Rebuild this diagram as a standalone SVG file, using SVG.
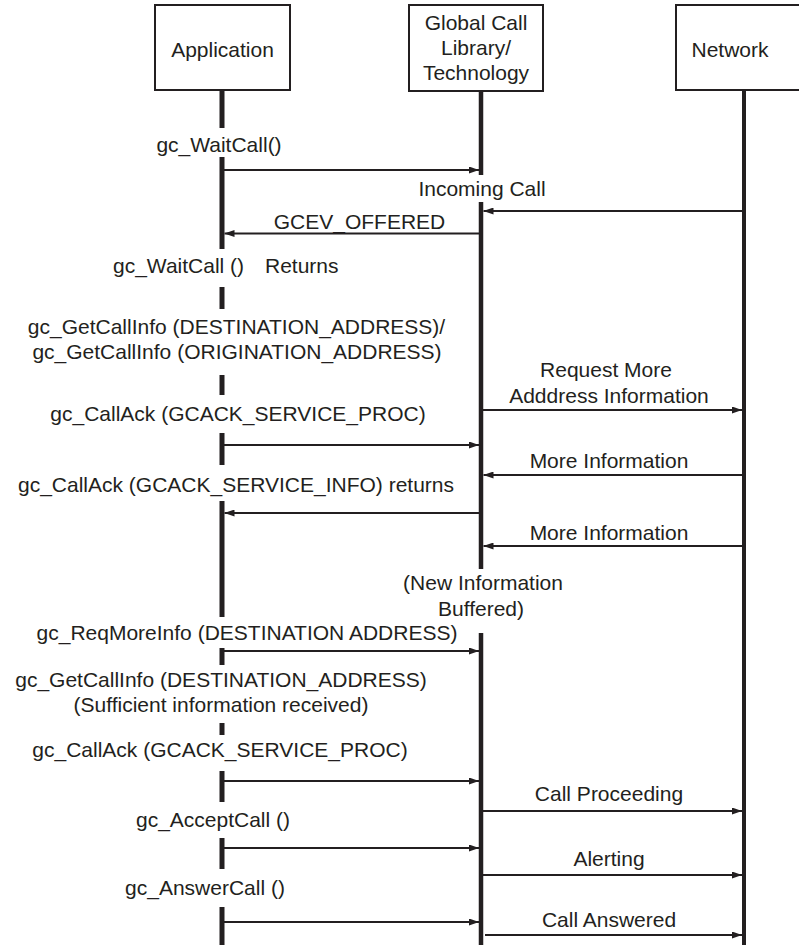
<svg xmlns="http://www.w3.org/2000/svg" width="799" height="945" viewBox="0 0 799 945">
  <style>
    .box { fill: #ffffff; stroke: #231f20; stroke-width: 2; }
    .life { stroke: #231f20; fill: none; }
    .app { stroke-width: 5; }
    .gcl { stroke-width: 4.5; }
    .net { stroke-width: 4; }
    .msg { stroke: #231f20; stroke-width: 2; fill: none; marker-end: url(#head); }
    text { font-family: "Liberation Sans", Arial, Helvetica, sans-serif; font-size: 21px; fill: #231f20; }
    .c { text-anchor: middle; }
  </style>
  <defs>
    <marker id="head" markerUnits="userSpaceOnUse" markerWidth="10" markerHeight="7" refX="10" refY="3.5" orient="auto">
      <path d="M0,0 L10,3.5 L0,7 z" fill="#231f20"/>
    </marker>
  </defs>

  <!-- participants -->
  <g id="application">
    <rect class="box" x="155" y="5" width="135" height="85"/>
    <text class="c" x="222.5" y="57">Application</text>
    <path class="life app" d="M222,90 V128 M222,157 V249 M222,287 V309 M222,375 V395 M222,433 V465 M222,501 V617 M222,648 V665 M222,723 V735 M222,771 V802 M222,838 V869 M222,907 V945"/>
  </g>
  <g id="global-call">
    <rect class="box" x="409" y="5" width="134" height="86"/>
    <text class="c" x="476" y="30">Global Call</text>
    <text class="c" x="476" y="55">Library/</text>
    <text class="c" x="476" y="80">Technology</text>
    <path class="life gcl" d="M481,91 V175 M481,202 V569 M481,633 V945"/>
  </g>
  <g id="network">
    <rect class="box" x="676" y="5" width="140" height="85"/>
    <text class="c" x="730" y="57">Network</text>
    <path class="life net" d="M744,90 V945"/>
  </g>

  <!-- messages -->
  <g id="connectors">
    <line class="msg" x1="224" y1="170" x2="479" y2="170"/>
    <line class="msg" x1="742" y1="211" x2="483.5" y2="211"/>
    <line class="msg" x1="479" y1="233.5" x2="224.5" y2="233.5"/>
    <line class="msg" x1="483" y1="410" x2="742" y2="410"/>
    <line class="msg" x1="224" y1="445" x2="479" y2="445"/>
    <line class="msg" x1="742" y1="475" x2="483.5" y2="475"/>
    <line class="msg" x1="479" y1="513" x2="224.5" y2="513"/>
    <line class="msg" x1="742" y1="546" x2="483.5" y2="546"/>
    <line class="msg" x1="224" y1="651" x2="479" y2="651"/>
    <line class="msg" x1="224" y1="781" x2="479" y2="781"/>
    <line class="msg" x1="483" y1="811" x2="742" y2="811"/>
    <line class="msg" x1="224" y1="848" x2="479" y2="848"/>
    <line class="msg" x1="483" y1="875" x2="742" y2="875"/>
    <line class="msg" x1="224" y1="922" x2="479" y2="922"/>
    <line class="msg" x1="485" y1="935" x2="742" y2="935"/>
  </g>

  <!-- labels -->
  <g id="labels">
    <text class="c" x="219" y="152">gc_WaitCall()</text>
    <text class="c" x="482" y="196">Incoming Call</text>
    <text class="c" x="359.5" y="229">GCEV_OFFERED</text>
    <text y="273"><tspan x="113">gc_WaitCall ()</tspan><tspan x="265">Returns</tspan></text>
    <text class="c" x="236.5" y="334">gc_GetCallInfo (DESTINATION_ADDRESS)/</text>
    <text class="c" x="237" y="359">gc_GetCallInfo (ORIGINATION_ADDRESS)</text>
    <text class="c" x="238" y="421">gc_CallAck (GCACK_SERVICE_PROC)</text>
    <text class="c" x="606" y="377">Request More</text>
    <text class="c" x="609" y="403">Adddress Information</text>
    <text class="c" x="609" y="468">More Information</text>
    <text class="c" x="236" y="492">gc_CallAck (GCACK_SERVICE_INFO) returns</text>
    <text class="c" x="609" y="540">More Information</text>
    <text class="c" x="483" y="590">(New Information</text>
    <text class="c" x="481" y="616">Buffered)</text>
    <text class="c" x="247" y="640">gc_ReqMoreInfo (DESTINATION ADDRESS)</text>
    <text class="c" x="221" y="687">gc_GetCallInfo (DESTINATION_ADDRESS)</text>
    <text class="c" x="221" y="712">(Sufficient information received)</text>
    <text class="c" x="220" y="757">gc_CallAck (GCACK_SERVICE_PROC)</text>
    <text class="c" x="609" y="801">Call Proceeding</text>
    <text class="c" x="213" y="827">gc_AcceptCall ()</text>
    <text class="c" x="609" y="866">Alerting</text>
    <text class="c" x="205" y="895">gc_AnswerCall ()</text>
    <text class="c" x="609" y="927">Call Answered</text>
  </g>
</svg>
